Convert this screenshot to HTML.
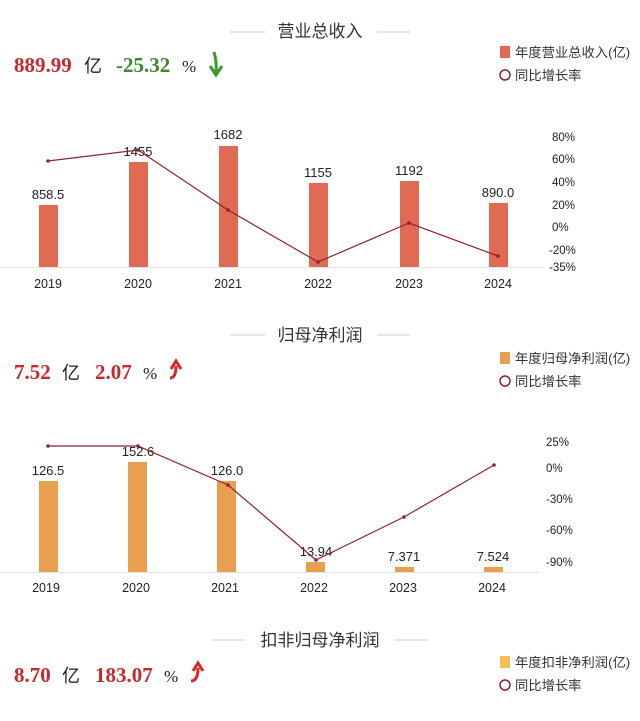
<!DOCTYPE html>
<html><head><meta charset="utf-8"><style>
html,body{margin:0;padding:0;background:#fff;}
svg{display:block;font-family:"Liberation Sans","Noto Sans CJK SC",sans-serif;}
.t{font-size:17px;fill:#333;text-anchor:middle}
.big{font-family:"Liberation Serif","Noto Serif CJK SC",serif;font-weight:bold;font-size:21px}
.yi{font-size:18px;fill:#222}
.pc{font-family:"Liberation Serif",serif;font-size:17px;fill:#222}
.lg{font-size:13.3px;fill:#333}
.ax{font-size:12.5px;fill:#222;text-anchor:middle}
.ra{font-size:11.5px;fill:#222}
.v{font-size:13px;fill:#222;text-anchor:middle}
</style></head><body>
<svg width="640" height="721" viewBox="0 0 640 721">
<!-- Chart 1 -->
<line x1="230" y1="32" x2="265" y2="32" stroke="#ddd" stroke-width="1.5"/>
<line x1="377" y1="32" x2="410" y2="32" stroke="#ddd" stroke-width="1.5"/>
<text class="t" x="320" y="37">营业总收入</text>
<text class="big" x="14" y="72" fill="#c8282d">889.99</text>
<text class="yi" x="84" y="72">亿</text>
<text class="big" x="116" y="72" fill="#3a8a2a">-25.32</text>
<text class="pc" x="182" y="72">%</text>
<path d="M214,52 Q217,62 216,73" fill="none" stroke="#3a9a2a" stroke-width="3"/>
<path d="M210,66 L216,75 L222,66" fill="none" stroke="#3a9a2a" stroke-width="3"/>
<rect x="500" y="46" width="10" height="12" fill="#e06a52"/>
<text class="lg" x="515" y="57">年度营业总收入(亿)</text>
<circle cx="505" cy="75" r="5" fill="none" stroke="#8b2330" stroke-width="1.5"/>
<text class="lg" x="515" y="80">同比增长率</text>
<line x1="0" y1="267.5" x2="545" y2="267.5" stroke="#e4e4e4"/>
<g fill="#e06a52">
<rect x="39" y="205" width="19" height="62"/>
<rect x="129" y="162" width="19" height="105"/>
<rect x="219" y="146" width="19" height="121"/>
<rect x="309" y="183" width="19" height="84"/>
<rect x="400" y="181" width="19" height="86"/>
<rect x="489" y="203" width="19" height="64"/>
</g>
<g class="v"><text x="48" y="199">858.5</text><text x="138" y="156">1455</text><text x="228" y="139">1682</text><text x="318" y="177">1155</text><text x="409" y="175">1192</text><text x="498" y="197">890.0</text></g>
<polyline points="48,161 138,150 228,210 318,262 409,223 498,256" fill="none" stroke="#8b2330" stroke-width="1.2"/>
<g fill="#8b2330"><circle cx="48" cy="161" r="1.8"/><circle cx="138" cy="150" r="1.8"/><circle cx="228" cy="210" r="1.8"/><circle cx="318" cy="262" r="1.8"/><circle cx="409" cy="223" r="1.8"/><circle cx="498" cy="256" r="1.8"/></g>
<g class="ra"><text x="552" y="141">80%</text><text x="552" y="163">60%</text><text x="552" y="186">40%</text><text x="552" y="209">20%</text><text x="552" y="231">0%</text><text x="549" y="254">-20%</text><text x="549" y="271">-35%</text></g>
<g class="ax"><text x="48" y="288">2019</text><text x="138" y="288">2020</text><text x="228" y="288">2021</text><text x="318" y="288">2022</text><text x="409" y="288">2023</text><text x="498" y="288">2024</text></g>

<!-- Chart 2 -->
<line x1="230" y1="335" x2="265" y2="335" stroke="#ddd" stroke-width="1.5"/>
<line x1="377" y1="335" x2="410" y2="335" stroke="#ddd" stroke-width="1.5"/>
<text class="t" x="320" y="341">归母净利润</text>
<text class="big" x="14" y="379" fill="#c8282d">7.52</text>
<text class="yi" x="62" y="379">亿</text>
<text class="big" x="95" y="379" fill="#c8282d">2.07</text>
<text class="pc" x="143" y="379">%</text>
<path d="M170,378 Q176,378 176,366" fill="none" stroke="#d82a22" stroke-width="3"/>
<path d="M171,369 L176,361 L181,369" fill="none" stroke="#d82a22" stroke-width="3"/>
<rect x="500" y="352" width="10" height="12" fill="#e8a050"/>
<text class="lg" x="515" y="363">年度归母净利润(亿)</text>
<circle cx="505" cy="381" r="5" fill="none" stroke="#8b2330" stroke-width="1.5"/>
<text class="lg" x="515" y="386">同比增长率</text>
<line x1="0" y1="572.5" x2="540" y2="572.5" stroke="#e4e4e4"/>
<g fill="#e8a050">
<rect x="39" y="481" width="19" height="91"/>
<rect x="128" y="462" width="19" height="110"/>
<rect x="217" y="481" width="19" height="91"/>
<rect x="306" y="562" width="19" height="10"/>
<rect x="395" y="567" width="19" height="5"/>
<rect x="484" y="567" width="19" height="5"/>
</g>
<g class="v"><text x="48" y="475">126.5</text><text x="138" y="456">152.6</text><text x="227" y="475">126.0</text><text x="316" y="556">13.94</text><text x="404" y="561">7.371</text><text x="493" y="561">7.524</text></g>
<polyline points="48,446 138,446 228,485 316,560 404,517 494,465" fill="none" stroke="#8b2330" stroke-width="1.2"/>
<g fill="#8b2330"><circle cx="48" cy="446" r="1.8"/><circle cx="138" cy="446" r="1.8"/><circle cx="228" cy="485" r="1.8"/><circle cx="316" cy="560" r="1.8"/><circle cx="404" cy="517" r="1.8"/><circle cx="494" cy="465" r="1.8"/></g>
<g class="ra"><text x="546" y="446">25%</text><text x="546" y="472">0%</text><text x="546" y="503">-30%</text><text x="546" y="534">-60%</text><text x="546" y="566">-90%</text></g>
<g class="ax"><text x="46" y="592">2019</text><text x="136" y="592">2020</text><text x="225" y="592">2021</text><text x="314" y="592">2022</text><text x="403" y="592">2023</text><text x="492" y="592">2024</text></g>

<!-- Chart 3 -->
<line x1="212" y1="640" x2="245" y2="640" stroke="#ddd" stroke-width="1.5"/>
<line x1="394" y1="640" x2="428" y2="640" stroke="#ddd" stroke-width="1.5"/>
<text class="t" x="320" y="646">扣非归母净利润</text>
<text class="big" x="14" y="682" fill="#c8282d">8.70</text>
<text class="yi" x="62" y="682">亿</text>
<text class="big" x="95" y="682" fill="#c8282d">183.07</text>
<text class="pc" x="164" y="682">%</text>
<path d="M191,681 Q198,681 198,668" fill="none" stroke="#d82a22" stroke-width="3"/>
<path d="M193,671 L198,663 L203,671" fill="none" stroke="#d82a22" stroke-width="3"/>
<rect x="500" y="656" width="10" height="12" fill="#f5be55"/>
<text class="lg" x="515" y="667">年度扣非净利润(亿)</text>
<circle cx="505" cy="685" r="5" fill="none" stroke="#8b2330" stroke-width="1.5"/>
<text class="lg" x="515" y="690">同比增长率</text>
</svg>
</body></html>
